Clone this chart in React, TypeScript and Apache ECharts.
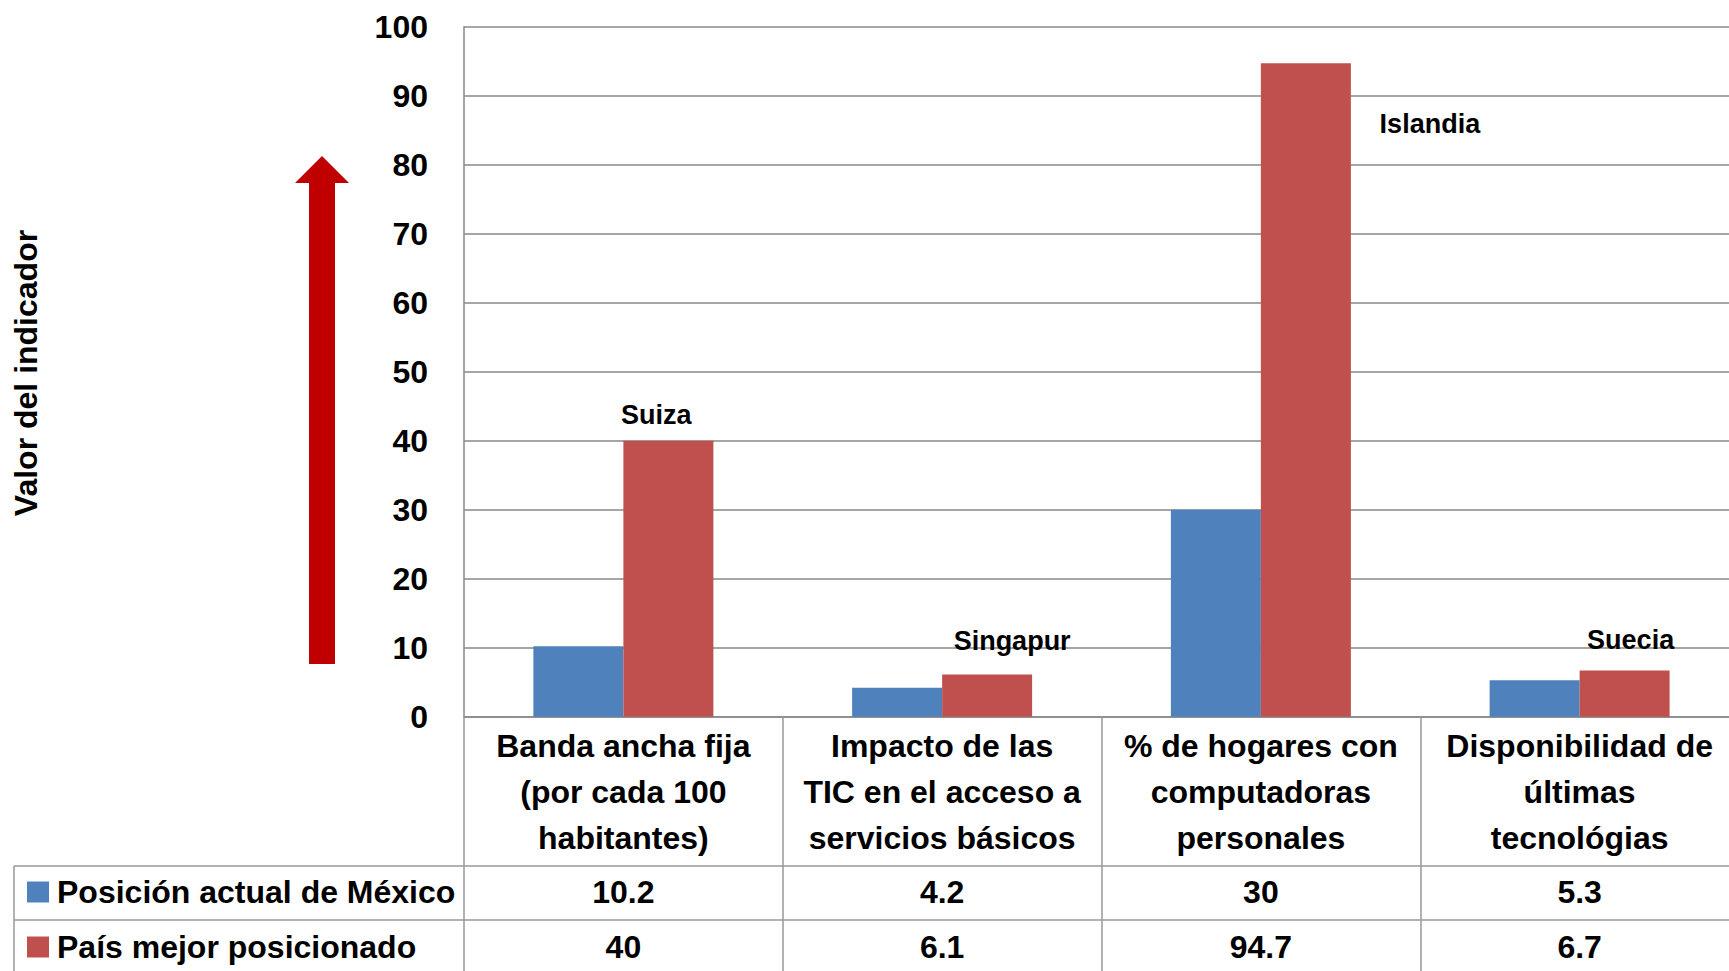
import React, { useEffect, useRef } from "react";
import * as echarts from "echarts";

const categories = [
  "Banda ancha fija\n(por cada 100\nhabitantes)",
  "Impacto de las\nTIC en el acceso a\nservicios básicos",
  "% de hogares con\ncomputadoras\npersonales",
  "Disponibilidad de\núltimas\ntecnológias",
];
const seriesNames = ["Posición actual de México", "País mejor posicionado"];
const mexico = [10.2, 4.2, 30, 5.3];
const best = [40, 6.1, 94.7, 6.7];
const bestCountries = ["Suiza", "Singapur", "Islandia", "Suecia"];
const yTicks = [0, 10, 20, 30, 40, 50, 60, 70, 80, 90, 100];
const colors = ["#4F81BD", "#C0504D"];

const labelOffsets = [
  [-12, -26],
  [25, -34],
  [124, 61],
  [6, -30],
];

const FONT = "'Liberation Sans', Arial, sans-serif";
const FS = 32;
const GRID_COLOR = "#888888";
const TABLE_COLOR = "#999999";

export default function App() {
  const ref = useRef<HTMLDivElement>(null);
  useEffect(() => {
    if (!ref.current) return;
    const chart = echarts.init(ref.current, null, { renderer: "svg" });
    const gridLeft = 464;
    const gridTop = 26.7;
    const gridH = 690;
    const gridW = 1275;
    const option: any = {
      animation: false,
      grid: {
        left: gridLeft,
        top: gridTop,
        width: gridW,
        height: gridH,
        containLabel: false,
        outerBoundsMode: "none",
      },
      xAxis: {
        type: "category",
        data: categories,
        axisLine: { show: true, lineStyle: { color: GRID_COLOR, width: 1.5 } },
        axisTick: {
          show: true,
          length: 270,
          lineStyle: { color: TABLE_COLOR, width: 1.5 },
        },
        axisLabel: {
          interval: 0,
          margin: 6,
          fontFamily: FONT,
          fontSize: FS,
          fontWeight: "bold",
          lineHeight: 46,
          color: "#000",
        },
      },
      yAxis: {
        type: "value",
        min: yTicks[0],
        max: yTicks[yTicks.length - 1],
        interval: 10,
        axisLine: { show: true, lineStyle: { color: GRID_COLOR, width: 1.5 } },
        axisTick: { show: false },
        splitLine: { show: true, lineStyle: { color: GRID_COLOR, width: 1.5 } },
        axisLabel: {
          margin: 36,
          fontFamily: FONT,
          fontSize: FS,
          fontWeight: "bold",
          color: "#000",
        },
      },
      series: [
        {
          name: seriesNames[0],
          type: "bar",
          data: mexico,
          barWidth: 90,
          barGap: "0%",
          itemStyle: { color: colors[0] },
        },
        {
          name: seriesNames[1],
          type: "bar",
          barWidth: 90,
          barGap: "0%",
          itemStyle: { color: colors[1] },
          data: best.map((v, i) => ({
            value: v,
            label: { offset: labelOffsets[i] },
          })),
          label: {
            show: true,
            position: "top",
            distance: 0,
            verticalAlign: "middle",
            align: "center",
            fontFamily: FONT,
            fontSize: 27,
            fontWeight: "bold",
            color: "#000",
            formatter: (p: any) => bestCountries[p.dataIndex],
          },
        },
      ],
    };
    chart.setOption(option);

    const xs = categories.map((_, i) =>
      chart.convertToPixel({ xAxisIndex: 0 }, i) as number
    );
    const rowYs = [892, 947];
    const rowValues = [mexico, best];
    const textStyle = (text: string, x: number, y: number, align: string) => ({
      text,
      x,
      y,
      fontFamily: FONT,
      fontSize: FS,
      fontWeight: "bold",
      fill: "#000",
      align,
      verticalAlign: "middle",
      textAlign: align,
      textVerticalAlign: "middle",
    });
    const graphics: any[] = [];
    // y-axis title
    graphics.push({
      type: "text",
      x: 26,
      y: 373,
      rotation: Math.PI / 2,
      style: textStyle("Valor del indicador", 0, 0, "center"),
    });
    // arrow
    graphics.push({
      type: "polygon",
      shape: {
        points: [
          [322, 156],
          [349, 183],
          [335, 183],
          [335, 664],
          [309, 664],
          [309, 183],
          [295, 183],
        ],
      },
      style: { fill: "#C00000" },
    });
    // table lines
    [866, 920].forEach((y) => {
      graphics.push({
        type: "line",
        shape: { x1: 14, y1: y, x2: 1740, y2: y },
        style: { stroke: TABLE_COLOR, lineWidth: 1.5 },
      });
    });
    graphics.push({
      type: "line",
      shape: { x1: 14, y1: 866, x2: 14, y2: 975 },
      style: { stroke: TABLE_COLOR, lineWidth: 1.5 },
    });
    rowYs.forEach((y, r) => {
      graphics.push({
        type: "rect",
        shape: { x: 27, y: y - 10.5, width: 22, height: 21 },
        style: { fill: colors[r] },
      });
      graphics.push({
        type: "text",
        style: textStyle(seriesNames[r], 57, y, "left"),
      });
      rowValues[r].forEach((v, i) => {
        graphics.push({
          type: "text",
          style: textStyle(String(v), xs[i], y, "center"),
        });
      });
    });
    chart.setOption({ graphic: graphics });
    return () => chart.dispose();
  }, []);
  return (
    <div
      ref={ref}
      style={{ position: "absolute", left: 0, top: 0, width: 1729, height: 971 }}
    />
  );
}
